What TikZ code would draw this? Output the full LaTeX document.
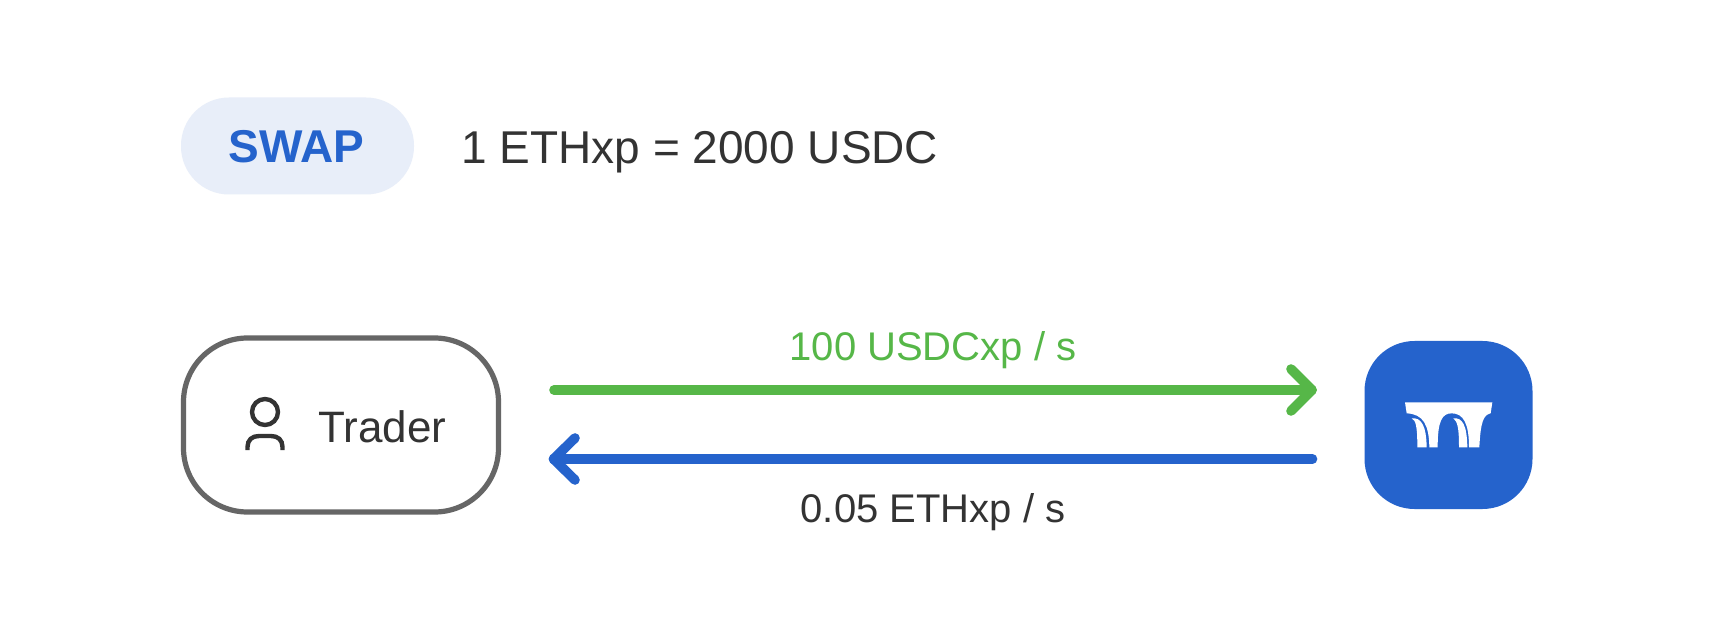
\documentclass[tikz,border=0pt]{standalone}
\usepackage{fontspec}
\setmainfont{Liberation Sans}
\definecolor{ink}{HTML}{333333}
\definecolor{bluec}{HTML}{2563CC}
\definecolor{greenc}{HTML}{56B748}
\definecolor{pale}{HTML}{E8EEF9}
\definecolor{edgec}{HTML}{666666}
\tikzset{
  x=0.5pt,y=-0.5pt,
  txt/.style={inner sep=0pt,text=ink,anchor=base},
  flow/.style={line width=4.8pt,line cap=round,line join=round},
  logo/.style={fill=white,draw=none}
}
\begin{document}
\begin{tikzpicture}
\useasboundingbox (0,0) rectangle (1714,636);
\fill[white] (0,0) rectangle (1714,636);
% badge
\node[fill=pale,rounded corners=24pt,minimum width=116.5pt,minimum height=48.5pt,inner sep=0pt] (badge) at (297.5,146) {};
\node[inner sep=0pt,anchor=base,text=bluec,font=\fontsize{23}{28}\selectfont\bfseries] (swap) at (296.5,163) {SWAP};
\node[txt,anchor=base west,font=\fontsize{23}{28}\selectfont] (rate) at (461,164) {1 ETHxp = 2000 USDC};
% trader
\node[draw=edgec,line width=2.6pt,fill=white,rounded corners=32pt,minimum width=157.5pt,minimum height=87pt,inner sep=0pt] (trader) at (341,425) {};
\node[txt,anchor=base west,font=\fontsize{22}{26}\selectfont] (tradertext) at (318,442.5) {Trader};
\draw[ink,line width=2.2pt] (265,412) circle[radius=13];
\draw[ink,line width=2.2pt] (247.5,450) -- (247.5,447) .. controls (247.5,440) and (252,436) .. (259,436) -- (271,436) .. controls (278,436) and (282.5,440) .. (282.5,447) -- (282.5,450);
% pool
\node[fill=bluec,rounded corners=25pt,minimum width=84pt,minimum height=84pt,inner sep=0pt] (pool) at (1448.5,425) {};
% logo
\begin{scope}[shift={(1385,390)},scale=0.33333]
\fill[logo] (60,37) -- (322,37) -- (317,70) .. controls (295,75) and (287,95) .. (283,172) -- (252,172) .. controls (252,100) and (235,70) .. (200,70) .. controls (170,70) and (158,95) .. (158,172) -- (133,172) .. controls (132,105) and (115,72) .. (65,70) -- cycle;
\fill[logo] (80,85) .. controls (108,82) and (124,105) .. (125,172) -- (97,172) .. controls (97,105) and (92,92) .. (80,85) -- cycle;
\fill[logo] (205,85) .. controls (232,82) and (246,105) .. (247,172) -- (222,172) .. controls (222,110) and (217,95) .. (205,85) -- cycle;
\end{scope}
% connectors
\coordinate (gs) at (554,390);
\coordinate (gt) at (1312,390);
\coordinate (bs) at (1312.5,459);
\coordinate (bt) at (553.5,459);
\draw[flow,greenc] (gs) -- (gt);
\draw[flow,greenc] (1291,369) -- (gt) -- (1291,411);
\draw[flow,bluec] (bs) -- (bt);
\draw[flow,bluec] (575,438) -- (bt) -- (575,480);
\node[txt,text=greenc,font=\fontsize{20}{24}\selectfont] (gl) at (933,360) {100 USDCxp / s};
\node[txt,font=\fontsize{20}{24}\selectfont] (bl) at (933,522) {0.05 ETHxp / s};
\end{tikzpicture}
\end{document}
